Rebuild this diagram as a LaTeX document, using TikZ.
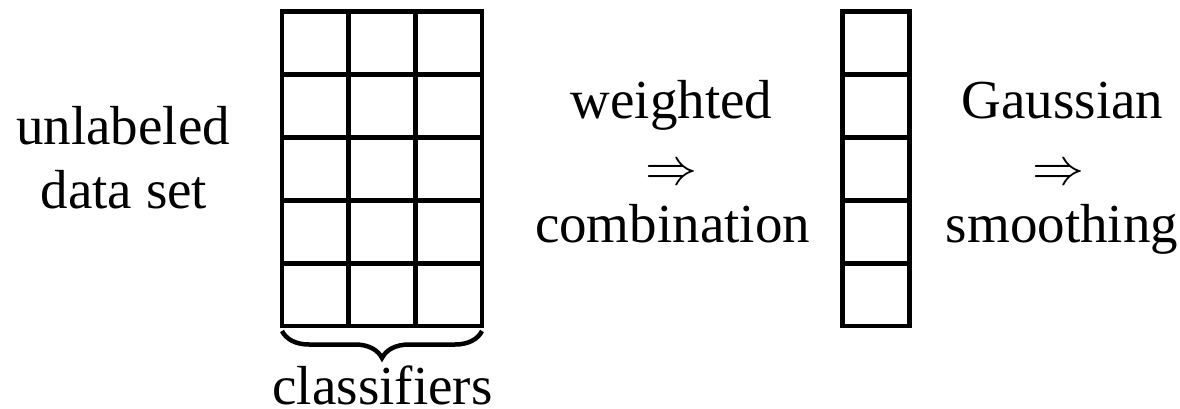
\documentclass[tikz,border=0pt]{standalone}
\usepackage{graphicx}
\usepackage{fontspec}
\setmainfont{Liberation Serif}
\usetikzlibrary{decorations.pathreplacing}
\begin{document}
\begin{tikzpicture}[x=1pt,y=-1pt,
  cell/.style={draw, line width=4.8pt, minimum width=66.67pt, minimum height=62.9pt, inner sep=0pt, outer sep=0pt},
  colcell/.style={cell, minimum width=67pt},
  lbl/.style={font=\fontsize{55}{63}\selectfont, inner sep=0pt, outer sep=0pt, anchor=base},
  arr/.style={font=\normalsize, inner sep=0pt, outer sep=0pt, anchor=base},
  bracestyle/.style={decorate, decoration={brace, mirror, amplitude=27pt}, line width=4.5pt}]
\useasboundingbox (0,0) rectangle (1180,409);
% classifier grid
\foreach \r [count=\ri] in {42.95,105.85,168.75,231.65,294.55}{
  \foreach \c [count=\ci] in {315.33,382,448.67}{
    \node[cell] (g\ri\ci) at (\c,\r) {};
  }
  \node[colcell] (w\ri) at (876,\r) {};
}
% brace
\coordinate (bl) at (282,331);
\coordinate (br) at (482,331);
\draw[bracestyle] (bl) -- (br);
% labels
\node[lbl] (un1) at (123,145) {unlabeled};
\node[lbl] (un2) at (124,208) {data set};
\node[lbl] (cls) at (382.5,404) {classifiers};
\node[lbl] (wt1) at (671.5,118) {weighted};
\node[arr] (wt2) at (671,184) {\scalebox{5.2}{$\Rightarrow$}};
\node[lbl] (wt3) at (672.5,242) {combination};
\node[lbl] (gs1) at (1062.5,119) {Gaussian};
\node[arr] (gs2) at (1058,184) {\scalebox{5.2}{$\Rightarrow$}};
\node[lbl] (gs3) at (1062,242) {smoothing};
\end{tikzpicture}
\end{document}
